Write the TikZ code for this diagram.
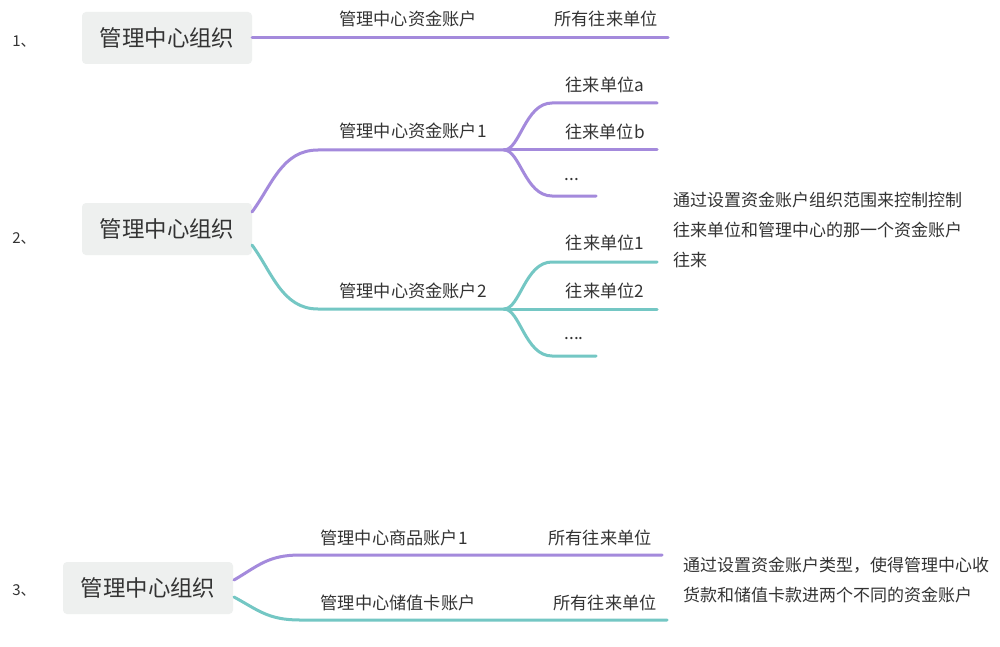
\documentclass[tikz,border=0pt]{standalone}
\usepackage{fontspec}
\setmainfont{Noto Sans CJK SC}
\definecolor{purp}{HTML}{A48ADC}
\definecolor{teal2}{HTML}{74C7C4}
\definecolor{boxfill}{HTML}{EEF0EF}
\definecolor{txt}{HTML}{333333}
\begin{document}
\begin{tikzpicture}[x=1pt,y=-1pt,
  rootbox/.style={fill=boxfill,rounded corners=4pt,text=txt,font=\fontsize{22.4}{25}\selectfont,minimum width=170pt,minimum height=52pt,inner sep=0pt},
  lbl/.style={text=txt,font=\fontsize{17.2}{20}\selectfont,inner sep=0pt},
  num/.style={text=txt,font=\fontsize{15}{17}\selectfont,inner sep=0pt},
  pline/.style={draw=purp,line width=3pt,line cap=round},
  tline/.style={draw=teal2,line width=3pt,line cap=round},
  note/.style={text=txt,font=\fontsize{17}{30}\selectfont,inner sep=0pt,align=left,anchor=north west}]
\useasboundingbox[fill=white] (0,0) rectangle (1000,647);

% ---------- 1 ----------
\node[num] (n1) at (24,42) {1、};
\node[rootbox] (r1) at (167,38) {管理中心组织};
\coordinate (e1) at (668,38);
\draw[pline] (r1.east) -- (e1);
\node[lbl] (l1a) at (408,19) {管理中心资金账户};
\node[lbl] (l1b) at (606,19) {所有往来单位};

% ---------- 2 ----------
\node[num] (n2) at (24,238) {2、};
\node[rootbox] (r2) at (167,229) {管理中心组织};
\coordinate (s2a) at (252,212);
\coordinate (j2a) at (504,150);
\coordinate (a1) at (657,103);
\coordinate (a2) at (657,150);
\coordinate (a3) at (596,196);
\draw[pline] (s2a) .. controls (272,185) and (282,150) .. (318,150) -- (j2a);
\draw[pline] (j2a) .. controls (520,150) and (525,103) .. (552,103) -- (a1);
\draw[pline] (j2a) -- (a2);
\draw[pline] (j2a) .. controls (520,150) and (525,196) .. (552,196) -- (a3);
\node[lbl] (l2a) at (413,131) {管理中心资金账户1};
\node[lbl] (l2a1) at (605,85) {往来单位a};
\node[lbl] (l2a2) at (605,132) {往来单位b};
\node[lbl] (l2a3) at (572,180) {...};

\coordinate (s2b) at (252,245);
\coordinate (j2b) at (504,309);
\coordinate (b1) at (657,262);
\coordinate (b2) at (657,309);
\coordinate (b3) at (596,356);
\draw[tline] (s2b) .. controls (272,272) and (282,309) .. (318,309) -- (j2b);
\draw[tline] (j2b) .. controls (520,309) and (525,262) .. (552,262) -- (b1);
\draw[tline] (j2b) -- (b2);
\draw[tline] (j2b) .. controls (520,309) and (525,356) .. (552,356) -- (b3);
\node[lbl] (l2b) at (413,291) {管理中心资金账户2};
\node[lbl] (l2b1) at (605,243) {往来单位1};
\node[lbl] (l2b2) at (605,291) {往来单位2};
\node[lbl] (l2b3) at (574,339) {....};

\node[note] (t2) at (673,192) {通过设置资金账户组织范围来控制控制\\往来单位和管理中心的那一个资金账户\\往来};

% ---------- 3 ----------
\node[num] (n3) at (24,590) {3、};
\node[rootbox] (r3) at (148,588) {管理中心组织};
\coordinate (s3a) at (234,580);
\coordinate (e3a) at (662,555);
\coordinate (s3b) at (234,597);
\coordinate (e3b) at (667,620);
\draw[pline] (s3a) .. controls (258,566) and (268,555) .. (300,555) -- (e3a);
\draw[tline] (s3b) .. controls (258,610) and (268,620) .. (300,620) -- (e3b);
\node[lbl] (l3a) at (394,538) {管理中心商品账户1};
\node[lbl] (l3b) at (600,538) {所有往来单位};
\node[lbl] (l3c) at (398,603) {管理中心储值卡账户};
\node[lbl] (l3d) at (605,603) {所有往来单位};
\node[note] (t3) at (683,557) {通过设置资金账户类型，使得管理中心收\\货款和储值卡款进两个不同的资金账户};
\end{tikzpicture}
\end{document}
